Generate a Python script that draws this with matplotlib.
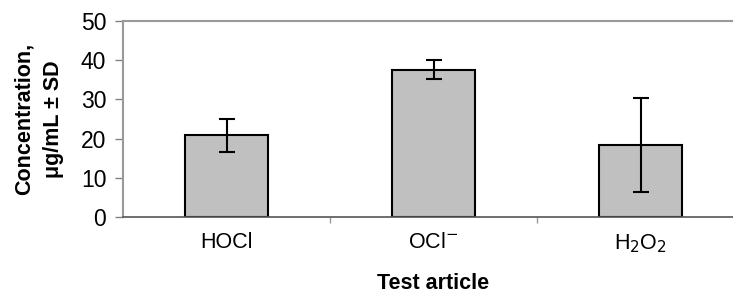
import matplotlib.pyplot as plt
import numpy as np

plt.rcParams['font.family'] = ['Liberation Sans', 'DejaVu Sans']

articles = ['HOCl', 'OCl$^{-}$', 'H$_2$O$_2$']
conc = [20.9, 37.6, 18.4]
sd = [4.2, 2.4, 12.0]
yticks = [0, 10, 20, 30, 40, 50]

fig = plt.figure(figsize=(7.33, 2.93), dpi=100)
# plot area runs slightly past the right edge, as in the original crop
ax = fig.add_axes([123/733, 1 - 217/293, (744 - 123)/733, (217 - 21)/293])

x = np.arange(len(articles))
ax.bar(x, conc, width=0.4, color='#c0c0c0', edgecolor='black', linewidth=1.5, zorder=2)
ax.errorbar(x, conc, yerr=sd, fmt='none', ecolor='black', elinewidth=1.5,
            capsize=6, capthick=1.5, zorder=3)

ax.set_xlim(-0.5, 2.5)
ax.set_ylim(0, 50)
ax.set_yticks(yticks)
ax.set_xticks(x)
ax.set_xticklabels(articles, fontsize=15.5)
ax.tick_params(axis='x', length=0, pad=11)
ax.set_xticks([0.5, 1.5], minor=True)
ax.tick_params(axis='x', which='minor', length=4, color='#999999', width=1)
ax.tick_params(axis='y', labelsize=16.5, length=6, color='#808080', width=1, pad=6)

for side in ['left', 'top', 'right']:
    ax.spines[side].set_color('#999999')
    ax.spines[side].set_linewidth(1.5)
ax.spines['bottom'].set_color('#555555')
ax.spines['bottom'].set_linewidth(1.2)

ax.set_ylabel('Concentration,\nμg/mL ± SD', fontsize=15.5, fontweight='bold',
              labelpad=12, linespacing=1.55)
ax.set_xlabel('Test article', fontsize=15.5, fontweight='bold', labelpad=13)

fig.savefig('out.png', dpi=100)
